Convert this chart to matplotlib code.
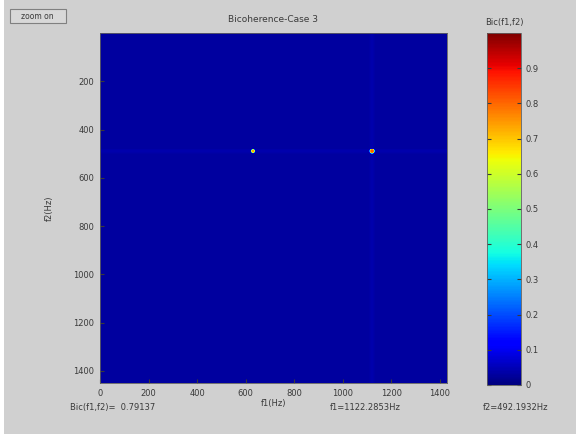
import numpy as np
import matplotlib
matplotlib.use('Agg')
import matplotlib.pyplot as plt
from matplotlib.patches import Rectangle

# bicoherence peaks (Hz) and their values
peak_f1 = [630.0, 1122.2853]
peak_f2 = [492.1932, 492.1932]
peak_bic = [0.72, 0.79137]
floor_bic = 0.03
ridge_bic = 0.012  # faint lines through the main peak

f1_max = 1430
f2_max = 1450
xticks = [0, 200, 400, 600, 800, 1000, 1200, 1400]
yticks = [200, 400, 600, 800, 1000, 1200, 1400]
cticks = [0, 0.1, 0.2, 0.3, 0.4, 0.5, 0.6, 0.7, 0.8, 0.9]

# build the bicoherence map on a grid
f1 = np.arange(0, f1_max + 1, 2.0)
f2 = np.arange(0, f2_max + 1, 2.0)
F1, F2 = np.meshgrid(f1, f2)
bic = np.full(F1.shape, floor_bic)
bic += ridge_bic * np.exp(-((F1 - peak_f1[1]) / 8.0) ** 2)
bic += ridge_bic * np.exp(-((F2 - peak_f2[1]) / 8.0) ** 2)
peak_size = [8.0, 10.0]
for a, b, v, w in zip(peak_f1, peak_f2, peak_bic, peak_size):
    r2 = ((F1 - a) / w) ** 2 + ((F2 - b) / w) ** 2
    bic += (v - floor_bic) * np.exp(-r2 ** 3)

bg = '#d0d0d0'
txt = '#3a3a3a'
fig = plt.figure(figsize=(5.76, 4.34), dpi=100, facecolor=bg)

ax = fig.add_axes([0.1736, 0.1175, 0.6024, 0.8065])
im = ax.imshow(bic, cmap='jet', vmin=0, vmax=1.0, origin='upper', aspect='auto',
               extent=[0, f1_max, f2_max, 0], interpolation='nearest')
ax.set_xticks(xticks)
ax.set_yticks(yticks)
ax.tick_params(direction='in', length=3, labelsize=6, colors=txt, pad=4)
for s in ax.spines.values():
    s.set_color('#606060')
    s.set_linewidth(0.6)
ax.set_xlabel('f1(Hz)', fontsize=6, color=txt, labelpad=1)
ax.set_ylabel('f2(Hz)', fontsize=6, color=txt, labelpad=14)
ax.set_title('Bicoherence-Case 3', fontsize=6.5, color=txt, pad=8)

cax = fig.add_axes([0.8455, 0.113, 0.059, 0.811])
cb = fig.colorbar(im, cax=cax, ticks=cticks)
cb.outline.set_edgecolor('#606060')
cb.outline.set_linewidth(0.6)
cax.tick_params(direction='in', length=3, labelsize=6, colors=txt, left=True, right=True)
cax.set_yticklabels(['0', '0.1', '0.2', '0.3', '0.4', '0.5', '0.6', '0.7', '0.8', '0.9'])
cax.set_title('Bic(f1,f2)', fontsize=6, color=txt, pad=6)

# readout of the selected point
i = int(np.argmax(peak_bic))
fig.text(0.122, 0.055, 'Bic(f1,f2)=  %.5f' % peak_bic[i], fontsize=6, color=txt)
fig.text(0.573, 0.055, 'f1=%.4fHz' % peak_f1[i], fontsize=6, color=txt)
fig.text(0.838, 0.055, 'f2=%.4fHz' % peak_f2[i], fontsize=6, color=txt)

# zoom toggle button
fig.patches.append(Rectangle((0.017, 0.947), 0.097, 0.032, transform=fig.transFigure,
                             facecolor='#d8d8d8', edgecolor='#808080', linewidth=0.8))
fig.text(0.065, 0.963, 'zoom on', fontsize=5.5, color=txt, ha='center', va='center')

# white strip along the left edge
fig.patches.append(Rectangle((0, 0), 0.007, 1, transform=fig.transFigure,
                             facecolor='white', edgecolor='none'))

fig.savefig('out.png', dpi=100, facecolor=bg)
